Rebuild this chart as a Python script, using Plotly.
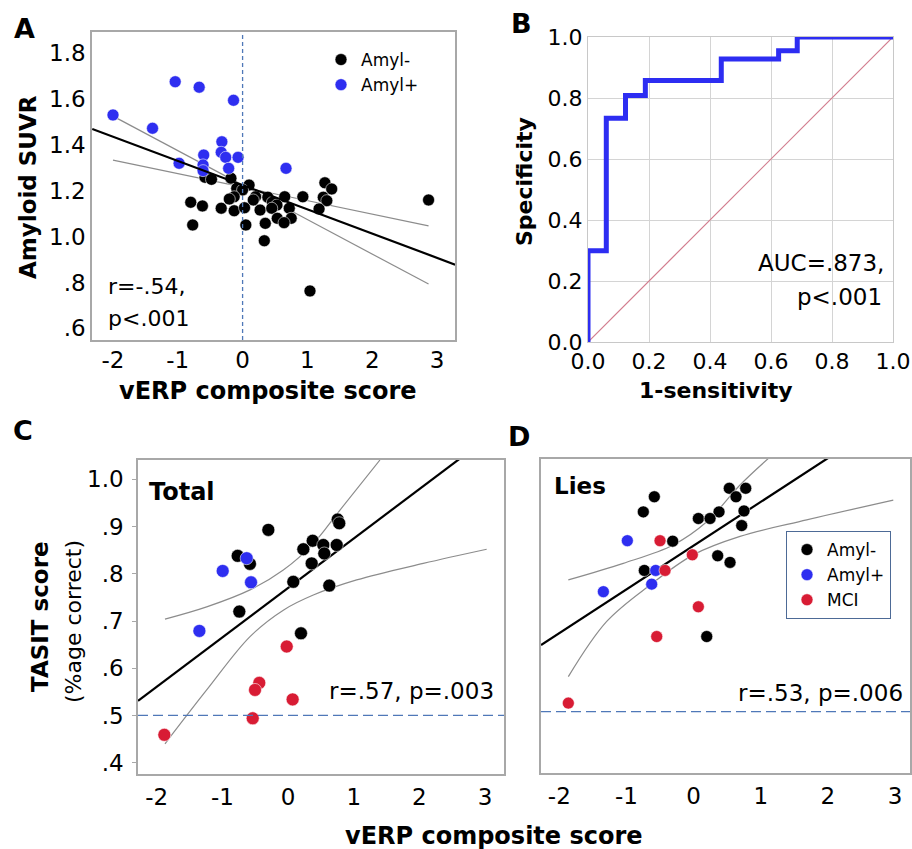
import plotly.graph_objects as go

W, H = 912, 849
FONT = "DejaVu Sans"
FRAME = "#a8a8a8"
BLACK = "#000000"
BLUE = "#2e2ef0"
RED = "#d81c34"
CI_GRAY = "#8c8c8c"
DASH_BLUE = "#4f78b8"

# ---------------- Panel A: Amyloid SUVR vs vERP composite score ----------------
a_neg_x = [-0.58, -0.48, -0.18, 0.10, -0.09, 0.0, -0.13, -0.205, 0.20, 0.165, 0.39, 0.65,
           0.93, 0.46, 0.53, 0.72, -0.80, -0.62, -0.33, -0.13, 0.03, 0.27, 0.45, 0.75,
           0.535, 0.64, 0.35, -0.77, 0.05, 0.335, 1.04, 1.27, 1.375, 1.245, 1.30, 1.18, 2.87]
a_neg_y = [1.259, 1.250, 1.255, 1.225, 1.211, 1.204, 1.174, 1.164, 1.174, 1.160, 1.172, 1.174,
           1.174, 1.150, 1.138, 1.124, 1.150, 1.134, 1.124, 1.113, 1.126, 1.116, 1.124, 1.080,
           1.080, 1.061, 1.058, 1.051, 1.051, 0.982, 0.763, 1.235, 1.208, 1.172, 1.157, 1.121, 1.160]
a_pos_x = [-2.00, -1.39, -1.04, -0.67, -0.14, -0.32, -0.33, -0.26, -0.07, -0.60, -0.98,
           -0.61, -0.61, -0.215, 0.67]
a_pos_y = [1.531, 1.473, 1.676, 1.652, 1.595, 1.414, 1.368, 1.346, 1.346, 1.356, 1.320,
           1.313, 1.288, 1.298, 1.298]
a_fit_x = [-2.32, 3.28]
a_fit_y = [1.470, 0.878]
a_ci1_x = [-2.0, 2.87]
a_ci1_y = [1.526, 0.793]
a_ci2_x = [-2.0, 2.87]
a_ci2_y = [1.334, 1.047]
a_ref_x = 0.0

# ---------------- Panel B: ROC curve ----------------
roc_fpr = [0.0, 0.06, 0.123, 0.188, 0.437, 0.625, 0.686, 1.0]
roc_tpr = [0.0, 0.299, 0.734, 0.808, 0.857, 0.928, 0.955, 1.0]
diag = [0.0, 1.0]

# ---------------- Panel C: TASIT Total ----------------
c_neg_x = [0.756, 0.78, -0.30, 0.375, 0.233, 0.537, 0.741, 0.552, 0.36, -0.767, -0.58, 0.08,
           0.628, -0.742, 0.197]
c_neg_y = [0.915, 0.907, 0.893, 0.870, 0.852, 0.861, 0.861, 0.843, 0.822, 0.838, 0.821, 0.783,
           0.775, 0.720, 0.674]
c_pos_x = [-0.63, -0.995, -0.564, -1.35]
c_pos_y = [0.833, 0.806, 0.782, 0.679]
c_mci_x = [-0.02, -0.438, -0.503, 0.07, -0.538, -1.884]
c_mci_y = [0.646, 0.569, 0.554, 0.534, 0.494, 0.459]
c_fit_x = [-2.285, 3.0]
c_fit_y = [0.531, 1.084]
c_up_x = [-1.874, -1.239, -0.579, -0.072, 0.385, 0.791, 1.40]
c_up_y = [0.704, 0.730, 0.766, 0.808, 0.864, 0.935, 1.041]
c_lo_x = [-1.874, -1.239, -0.579, -0.072, 0.385, 1.045, 2.06, 3.025]
c_lo_y = [0.440, 0.554, 0.667, 0.723, 0.755, 0.787, 0.822, 0.852]
chance = 0.5

# ---------------- Panel D: TASIT Lies ----------------
d_neg_x = [-0.585, -0.749, 0.532, 0.777, 0.632, 0.379, 0.071, 0.245, 0.751, 0.717, -0.311,
           0.359, 0.543, -0.734, 0.196]
d_neg_y = [0.955, 0.923, 0.973, 0.973, 0.955, 0.923, 0.909, 0.909, 0.925, 0.894, 0.861,
           0.830, 0.816, 0.799, 0.659]
d_pos_x = [-0.987, -0.564, -0.624, -1.344]
d_pos_y = [0.862, 0.799, 0.770, 0.754]
d_mci_x = [-0.50, -0.019, -0.425, 0.071, -0.549, -1.866]
d_mci_y = [0.862, 0.832, 0.799, 0.722, 0.659, 0.518]
d_fit_x = [-2.273, 2.1]
d_fit_y = [0.641, 1.046]
d_up_x = [-1.866, -1.047, -0.302, 0.196, 0.692, 1.128]
d_up_y = [0.779, 0.814, 0.853, 0.902, 0.980, 1.038]
d_lo_x = [-1.866, -1.294, -0.649, -0.004, 0.692, 1.685, 2.975]
d_lo_y = [0.574, 0.691, 0.768, 0.832, 0.871, 0.906, 0.948]

x_ticks = [-2, -1, 0, 1, 2, 3]
x_ticktext = ["-2", "-1", "0", "1", "2", "3"]
a_yticks = [0.6, 0.8, 1.0, 1.2, 1.4, 1.6, 1.8]
a_yticktext = [".6", ".8", "1.0", "1.2", "1.4", "1.6", "1.8"]
b_ticks = [0.0, 0.2, 0.4, 0.6, 0.8, 1.0]
b_ticktext = ["0.0", "0.2", "0.4", "0.6", "0.8", "1.0"]
c_yticks = [0.4, 0.5, 0.6, 0.7, 0.8, 0.9, 1.0]
c_yticktext = [".4", ".5", ".6", ".7", ".8", ".9", "1.0"]


def px(x):
    return x / W


def py(y):
    return 1 - y / H


fig = go.Figure()


def pts(x, y, color, name, xa, ya, size, legend=None, show=False):
    fig.add_trace(go.Scatter(
        x=x, y=y, mode="markers", name=name, xaxis=xa, yaxis=ya,
        marker=dict(color=color, size=size, line=dict(color="rgba(255,255,255,0.7)", width=0.8)),
        showlegend=show, legend=legend, legendgroup=(legend or "") + name, hoverinfo="skip"))


def line(x, y, color, width, xa, ya, shape="linear"):
    fig.add_trace(go.Scatter(
        x=x, y=y, mode="lines", xaxis=xa, yaxis=ya, showlegend=False, hoverinfo="skip",
        line=dict(color=color, width=width, shape=shape, smoothing=1.0)))


# Panel A
line(a_ci1_x, a_ci1_y, CI_GRAY, 1.2, "x", "y")
line(a_ci2_x, a_ci2_y, CI_GRAY, 1.2, "x", "y")
pts(a_neg_x, a_neg_y, BLACK, "Amyl-", "x", "y", 12, "legend", True)
pts(a_pos_x, a_pos_y, BLUE, "Amyl+", "x", "y", 12, "legend", True)
line(a_fit_x, a_fit_y, BLACK, 2.2, "x", "y")

# Panel B
line(diag, diag, "#d27c8e", 1.2, "x2", "y2")
line(roc_fpr, roc_tpr, "#2d2df2", 5, "x2", "y2", shape="vh")

# Panel C
line(c_up_x, c_up_y, CI_GRAY, 1.2, "x3", "y3", "spline")
line(c_lo_x, c_lo_y, CI_GRAY, 1.2, "x3", "y3", "spline")
line(c_fit_x, c_fit_y, BLACK, 2.2, "x3", "y3")
pts(c_neg_x, c_neg_y, BLACK, "Amyl-", "x3", "y3", 13)
pts(c_pos_x, c_pos_y, BLUE, "Amyl+", "x3", "y3", 13)
pts(c_mci_x, c_mci_y, RED, "MCI", "x3", "y3", 13)

# Panel D
line(d_up_x, d_up_y, CI_GRAY, 1.2, "x4", "y4", "spline")
line(d_lo_x, d_lo_y, CI_GRAY, 1.2, "x4", "y4", "spline")
line(d_fit_x, d_fit_y, BLACK, 2.2, "x4", "y4")
pts(d_neg_x, d_neg_y, BLACK, "Amyl-", "x4", "y4", 12, "legend2", True)
pts(d_pos_x, d_pos_y, BLUE, "Amyl+", "x4", "y4", 12, "legend2", True)
pts(d_mci_x, d_mci_y, RED, "MCI", "x4", "y4", 12, "legend2", True)

tickfont = dict(family=FONT, size=23, color="black")
frame = dict(showline=True, mirror=True, linecolor=FRAME, linewidth=1.5,
             showgrid=False, zeroline=False, ticks="", automargin=False)

fig.update_layout(
    width=W, height=H, margin=dict(l=0, r=0, t=0, b=0, pad=0, autoexpand=False),
    paper_bgcolor="white", plot_bgcolor="white",
    font=dict(family=FONT, color="black"),
    xaxis=dict(domain=[px(92), px(455)], range=[-2.324, 3.278], anchor="y",
               tickvals=x_ticks, ticktext=x_ticktext, tickfont=tickfont,
               ticklabelstandoff=-1, **frame),
    yaxis=dict(domain=[py(340), py(32)], range=[0.549, 1.893], anchor="x",
               tickvals=a_yticks, ticktext=a_yticktext, tickfont=tickfont, **frame),
    xaxis2=dict(domain=[px(588), px(893)], range=[0, 1], anchor="y2",
                tickvals=b_ticks, ticktext=b_ticktext, tickfont=dict(family=FONT, size=22),
                showline=True, mirror=True, linecolor="#c8c8c8", showgrid=True,
                gridcolor="#d4d4d4", gridwidth=1, zeroline=False, ticks="", automargin=False),
    yaxis2=dict(domain=[py(342), py(37)], range=[0, 1], anchor="x2",
                tickvals=b_ticks, ticktext=b_ticktext, tickfont=dict(family=FONT, size=22),
                showline=True, mirror=True, linecolor="#c8c8c8", showgrid=True,
                gridcolor="#d4d4d4", gridwidth=1, zeroline=False, ticks="", automargin=False),
    xaxis3=dict(domain=[px(138), px(504)], range=[-2.285, 3.289], anchor="y3",
                tickvals=x_ticks, ticktext=x_ticktext, tickfont=tickfont,
                ticklabelstandoff=2, **frame),
    yaxis3=dict(domain=[py(774), py(460)], range=[0.376, 1.041], anchor="x3",
                tickvals=c_yticks, ticktext=c_yticktext, tickfont=tickfont,
                showline=True, mirror=True, linecolor=FRAME, linewidth=1.5,
                showgrid=False, zeroline=False, ticks="outside", ticklen=4, tickcolor=FRAME,
                ticklabelstandoff=4, automargin=False),
    xaxis4=dict(domain=[px(541), px(910)], range=[-2.273, 3.224], anchor="y4",
                tickvals=x_ticks, ticktext=x_ticktext, tickfont=tickfont,
                ticklabelstandoff=2, **frame),
    yaxis4=dict(domain=[py(773), py(459)], range=[0.370, 1.035], anchor="x4",
                showticklabels=False, **frame),
    legend=dict(x=px(321), y=py(42), xanchor="left", yanchor="top",
                bgcolor="rgba(0,0,0,0)", borderwidth=0,
                font=dict(family=FONT, size=17), tracegroupgap=0),
    legend2=dict(x=px(786), y=py(531), xanchor="left", yanchor="top",
                 bgcolor="white", bordercolor="#4d6a96", borderwidth=1,
                 font=dict(family=FONT, size=17), tracegroupgap=0),
    shapes=[
        dict(type="line", xref="x", yref="y domain", x0=a_ref_x, x1=a_ref_x, y0=0, y1=1,
             line=dict(color=DASH_BLUE, width=1.3, dash="4px,3px")),
        dict(type="line", xref="x3 domain", yref="y3", x0=0, x1=1, y0=chance, y1=chance,
             line=dict(color=DASH_BLUE, width=1.3, dash="10px,5px")),
        dict(type="line", xref="x4 domain", yref="y4", x0=0, x1=1, y0=chance, y1=chance,
             line=dict(color=DASH_BLUE, width=1.3, dash="10px,5px")),
    ],
)


def ann(text, x, y, size, bold=False, xanchor="center", angle=0):
    fig.add_annotation(
        text=("<b>%s</b>" % text) if bold else text, x=px(x), y=py(y), xref="paper",
        yref="paper", xanchor=xanchor, yanchor="middle", showarrow=False, textangle=angle,
        font=dict(family=FONT, size=size, color="black"))


# panel letters
ann("A", 24, 28, 27, True)
ann("B", 521, 24, 27, True)
ann("C", 23, 430, 27, True)
ann("D", 519, 436, 27, True)

# axis titles
ann("Amyloid SUVR", 28, 187, 23, True, angle=-90)
ann("vERP composite score", 268, 391, 24, True)
ann("Specificity", 525, 182, 22, True, angle=-90)
ann("1-sensitivity", 716, 391, 22, True)
ann("TASIT score", 40, 617, 23, True, angle=-90)
ann("(%age correct)", 73, 622, 22, False, angle=-90)
ann("vERP composite score", 494, 836, 24, True)

# in-plot texts
ann("r=-.54,", 106, 287, 22, xanchor="left")
ann("p<.001", 106, 318, 22, xanchor="left")
ann("AUC=.873,", 886, 263, 23, xanchor="right")
ann("p<.001", 884, 297, 23, xanchor="right")
ann("Total", 147, 492, 24, True, xanchor="left")
ann("r=.57, p=.003", 496, 691, 23, xanchor="right")
ann("Lies", 552, 486, 23, True, xanchor="left")
ann("r=.53, p=.006", 905, 693, 23, xanchor="right")

fig.write_html("out.html",
               config={"displayModeBar": False},
               post_script="document.body.style.margin='0px';"
                           "document.body.style.overflow='hidden';")
